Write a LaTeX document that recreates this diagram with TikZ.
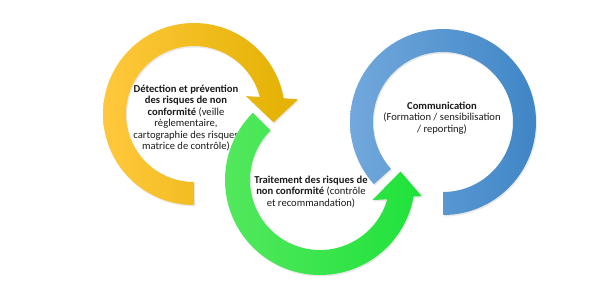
\documentclass[tikz,border=0pt]{standalone}
\usepackage{fontspec}
\setmainfont{Carlito}
\usepackage{xcolor}
\usetikzlibrary{shadows}
\definecolor{ink}{HTML}{1A1A1A}
\definecolor{goldleft}{HTML}{FFC83D}
\definecolor{goldright}{HTML}{E2B100}
\definecolor{greenleft}{HTML}{55E85F}
\definecolor{greenright}{HTML}{1FE23A}
\definecolor{blueleft}{HTML}{72A8DC}
\definecolor{blueright}{HTML}{3F86C6}

\tikzset{
  ringshadow/.style={drop shadow={opacity=0.18,shadow xshift=1pt,shadow yshift=-1.5pt}},
  goldring/.style={ringshadow,left color=goldleft,right color=goldright},
  greenring/.style={ringshadow,left color=greenleft,right color=greenright},
  bluering/.style={ringshadow,left color=blueleft,right color=blueright},
  steplabel/.style={align=center,text=ink,inner sep=0pt,font=\fontsize{10.6}{11.4}\selectfont}
}

\begin{document}
\begin{tikzpicture}[x=1pt,y=1pt]
  \useasboundingbox (0,0) rectangle (600,290);
  % detection
  \begin{scope}[shift={(194,176)}]
    \shade[goldring] (270:91) arc[start angle=270,end angle=10,radius=91]
      -- (8:105) -- (-6:80) -- (19:55) -- (14.5:68)
      arc[start angle=14.5,end angle=270,radius=68] -- cycle;
  \end{scope}
  \node[steplabel] (detect) at (186,172)
    {\textbf{Détection et prévention}\\\textbf{des risques de non}\\\textbf{conformité} (veille\\règlementaire,\\cartographie des risques\\matrice de contrôle)};
  % traitement
  \begin{scope}[shift={(320,110)}]
    \shade[greenring] (135:95) arc[start angle=135,end angle=350,radius=95]
      -- (351:103) -- (366:81) -- (339:56) -- (344:70)
      arc[start angle=344,end angle=135,radius=70] -- cycle;
  \end{scope}
  \node[steplabel] (traite) at (311,98)
    {\textbf{Traitement des risques de}\\\textbf{non conformité} (contrôle\\et recommandation)};
  % communication
  \begin{scope}[shift={(443,168)}]
    \shade[bluering] (-90:93) arc[start angle=-90,end angle=222,radius=93]
      -- (222:70) arc[start angle=222,end angle=-90,radius=70] -- cycle;
  \end{scope}
  \node[steplabel] (comm) at (442,172)
    {\textbf{Communication}\\(Formation / sensibilisation\\/ reporting)};
\end{tikzpicture}
\end{document}
